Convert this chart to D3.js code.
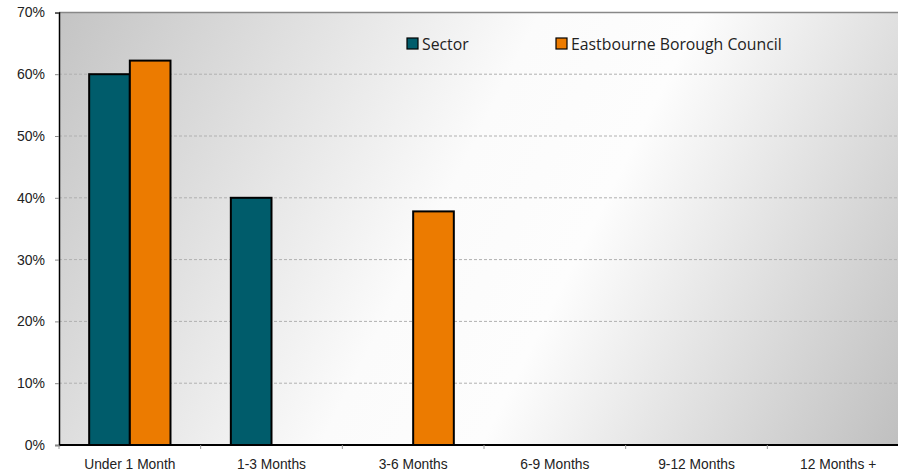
<!DOCTYPE html>
<html><head><meta charset="utf-8">
<script src="https://cdn.jsdelivr.net/npm/d3@7"></script>
<style>body{margin:0;background:#fff;} svg{display:block;font-family:"Open Sans","Noto Sans",sans-serif;}</style>
</head><body><svg id="c" width="898" height="475"></svg>
<script>
const categories = ["Under 1 Month","1-3 Months","3-6 Months","6-9 Months","9-12 Months","12 Months +"];
const seriesNames = ["Sector","Eastbourne Borough Council"];
const sectorValues = [60, 40, 0, 0, 0, 0];
const councilValues = [62.2, 0, 37.8, 0, 0, 0];
const yTicks = [0,10,20,30,40,50,60,70];
const colors = ["#005c6b","#ec7b00"];

const svg = d3.select("#c");
const m = {left:59, top:12.4, right:-11, bottom:30};
const W = 898 - m.left - m.right, H = 475 - m.top - m.bottom;
const g = svg.append("g").attr("transform",`translate(${m.left},${m.top})`);

const x = d3.scaleBand().domain(categories).range([0,W]).paddingInner(0).paddingOuter(0);
const x1 = d3.scaleBand().domain(seriesNames).range([x.bandwidth()*0.213, x.bandwidth()*0.787]);
const y = d3.scaleLinear().domain([0,70]).range([H,0]);

const defs = svg.append("defs");
const gr = defs.append("linearGradient").attr("id","bg").attr("gradientUnits","userSpaceOnUse")
  .attr("x1",0).attr("y1",0).attr("x2",W).attr("y2",H);
gr.append("stop").attr("offset","0").attr("stop-color","#c4c4c4");
gr.append("stop").attr("offset","0.45").attr("stop-color","#fbfbfb");
gr.append("stop").attr("offset","0.6").attr("stop-color","#fdfdfd");
gr.append("stop").attr("offset","1").attr("stop-color","#bebebe");
g.append("rect").attr("width",W).attr("height",H).attr("fill","url(#bg)");

// gridlines
g.append("g").selectAll("line").data(yTicks.filter(t=>t>0 && t<70)).join("line")
  .attr("x1",0).attr("x2",W).attr("y1",d=>y(d)).attr("y2",d=>y(d))
  .attr("stroke","#b0b0b0").attr("stroke-width",1).attr("stroke-dasharray","3,2");
g.append("line").attr("x1",0).attr("x2",W).attr("y1",y(70)).attr("y2",y(70)).attr("stroke","#888").attr("stroke-width",1.5);

// bars
const data = categories.map((c,i)=>({c, vals:[sectorValues[i], councilValues[i]]}));
const grp = g.selectAll("g.cat").data(data).join("g").attr("transform",d=>`translate(${x(d.c)},0)`);
grp.selectAll("rect").data(d=>d.vals.map((v,j)=>({v,s:seriesNames[j],j})).filter(e=>e.v>0)).join("rect")
  .attr("x",d=>x1(d.s)).attr("width",x1.bandwidth())
  .attr("y",d=>y(d.v)).attr("height",d=>y(0)-y(d.v))
  .attr("fill",d=>colors[d.j]).attr("stroke","#000").attr("stroke-width",2);

// y axis
const ya = g.append("g").call(d3.axisLeft(y).tickValues(yTicks).tickFormat(d=>d+"%").tickSize(4).tickPadding(10));
ya.select(".domain").attr("stroke","#000").attr("stroke-width",1.5);
ya.selectAll("text").attr("font-size",14).attr("fill","#222");
ya.selectAll(".tick line").attr("stroke","#888");

// x axis
const xa = g.append("g").attr("transform",`translate(0,${H})`)
  .call(d3.axisBottom(x).tickSize(0).tickPadding(14));
xa.select(".domain").remove();
xa.selectAll("text").attr("font-size",13.8).attr("fill","#222");
g.append("line").attr("x1",0).attr("x2",W).attr("y1",H).attr("y2",H).attr("stroke","#000").attr("stroke-width",1.8);
g.append("g").selectAll("line").data(d3.range(categories.length+1)).join("line")
  .attr("x1",i=>i*x.step()).attr("x2",i=>i*x.step()).attr("y1",H).attr("y2",H+4).attr("stroke","#999");

// legend
const lg = svg.append("g");
const lx = [407, 556];
seriesNames.forEach((s,i)=>{
  lg.append("rect").attr("x",lx[i]).attr("y",38).attr("width",11).attr("height",11)
    .attr("fill",colors[i]).attr("stroke","#000").attr("stroke-width",1.2);
  lg.append("text").attr("x",lx[i]+15).attr("y",50).attr("font-size",15.8).attr("fill","#222").text(s);
});
</script></body></html>
